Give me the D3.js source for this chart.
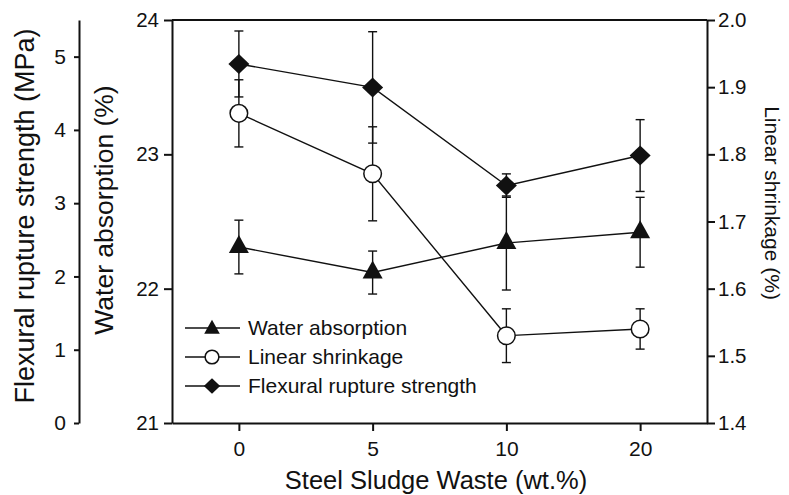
<!DOCTYPE html>
<html>
<head>
<meta charset="utf-8">
<script src="https://cdn.jsdelivr.net/npm/d3@7"></script>
<style>
  html, body { margin: 0; padding: 0; background: #fff; }
  svg { display: block; }
  text { font-family: "Liberation Sans", Arial, sans-serif; fill: #111; }
</style>
</head>
<body>
<svg id="chart" width="789" height="495"></svg>
<script>
// ---- data ----
const categories = ["0", "5", "10", "20"];
const waterAbsorption = [22.31, 22.12, 22.34, 22.42];
const waterAbsorptionErr = [0.20, 0.16, 0.35, 0.26];
const linearShrinkage = [1.861, 1.771, 1.530, 1.540];
const linearShrinkageErr = [0.05, 0.07, 0.04, 0.03];
const flexuralStrength = [4.90, 4.58, 3.24, 3.65];
const flexuralStrengthErr = [0.45, 0.76, 0.16, 0.49];
const waterTicks = [21, 22, 23, 24];
const shrinkTicks = [1.4, 1.5, 1.6, 1.7, 1.8, 1.9, 2.0];
const flexTicks = [0, 1, 2, 3, 4, 5];
const legendLabels = ["Water absorption", "Linear shrinkage", "Flexural rupture strength"];

// ---- layout ----
const svg = d3.select("#chart");
const L = 172, R = 707, T = 20, B = 423;
const flexAxisX = 79;
const ink = "#111";

const x = d3.scalePoint().domain(categories).range([L, R]).padding(0.5);
const yWater = d3.scaleLinear().domain([21, 24]).range([B, T]);
const yShrink = d3.scaleLinear().domain([1.4, 2.0]).range([B, T]);
const yFlex = d3.scaleLinear().domain([0, 5.5]).range([B, T]);

function styleAxis(g, fs) {
  g.selectAll(".domain").attr("stroke", ink).attr("stroke-width", 2);
  g.selectAll(".tick line").attr("stroke", ink).attr("stroke-width", 2);
  g.selectAll(".tick text").attr("font-size", fs).attr("fill", ink)
    .attr("font-family", '"Liberation Sans", Arial, sans-serif');
}

// bottom axis
const gx = svg.append("g").attr("transform", `translate(0,${B})`)
  .call(d3.axisBottom(x).tickSize(8).tickSizeOuter(0).tickPadding(10));
styleAxis(gx, 21);

// top frame line
svg.append("line").attr("x1", L).attr("x2", R).attr("y1", T).attr("y2", T)
  .attr("stroke", ink).attr("stroke-width", 2);

// left water absorption axis
const gw = svg.append("g").attr("transform", `translate(${L},0)`)
  .call(d3.axisLeft(yWater).tickValues(waterTicks).tickFormat(d3.format("d")).tickSize(8).tickSizeOuter(0).tickPadding(5));
styleAxis(gw, 20.5);

// right linear shrinkage axis
const gs = svg.append("g").attr("transform", `translate(${R},0)`)
  .call(d3.axisRight(yShrink).tickValues(shrinkTicks).tickFormat(d3.format(".1f")).tickSize(8).tickSizeOuter(0).tickPadding(3));
styleAxis(gs, 20.5);

// far-left flexural axis
const gf = svg.append("g").attr("transform", `translate(${flexAxisX},0)`)
  .call(d3.axisLeft(yFlex).tickValues(flexTicks).tickFormat(d3.format("d")).tickSize(5).tickSizeOuter(0).tickPadding(8));
styleAxis(gf, 21);

// axis titles
svg.append("text").attr("transform", `translate(34,216) rotate(-90)`)
  .attr("text-anchor", "middle").attr("font-size", 27).text("Flexural rupture strength (MPa)");
svg.append("text").attr("transform", `translate(113,210) rotate(-90)`)
  .attr("text-anchor", "middle").attr("font-size", 26.5).text("Water absorption (%)");
svg.append("text").attr("transform", `translate(765,203) rotate(90)`)
  .attr("text-anchor", "middle").attr("font-size", 21).text("Linear shrinkage (%)");
svg.append("text").attr("x", 436).attr("y", 489)
  .attr("text-anchor", "middle").attr("font-size", 25.5).text("Steel Sludge Waste (wt.%)");

// marker shapes
function triPath(w, h) {
  return `M0,${-2 * h / 3}L${w / 2},${h / 3}L${-w / 2},${h / 3}Z`;
}
function diaPath(hw, hh) {
  return `M0,${-hh}L${hw},0L0,${hh}L${-hw},0Z`;
}

const series = [
  { vals: waterAbsorption, err: waterAbsorptionErr, y: yWater, kind: "tri" },
  { vals: linearShrinkage, err: linearShrinkageErr, y: yShrink, kind: "circ" },
  { vals: flexuralStrength, err: flexuralStrengthErr, y: yFlex, kind: "dia" }
];

const plot = svg.append("g");
// connecting lines
series.forEach(s => {
  const line = d3.line().x((d, i) => x(categories[i])).y(d => s.y(d));
  plot.append("path").attr("d", line(s.vals)).attr("fill", "none")
    .attr("stroke", ink).attr("stroke-width", 1.4);
});
// error bars
series.forEach(s => {
  s.vals.forEach((v, i) => {
    const cx = x(categories[i]);
    const y1 = s.y(v + s.err[i]), y2 = s.y(v - s.err[i]);
    const g = plot.append("g").attr("stroke", ink).attr("stroke-width", 1.4);
    g.append("line").attr("x1", cx).attr("x2", cx).attr("y1", y1).attr("y2", y2);
    g.append("line").attr("x1", cx - 4.5).attr("x2", cx + 4.5).attr("y1", y1).attr("y2", y1);
    g.append("line").attr("x1", cx - 4.5).attr("x2", cx + 4.5).attr("y1", y2).attr("y2", y2);
  });
});
// markers
function drawMarker(g, kind, cx, cy, scale) {
  if (kind === "tri") {
    g.append("path").attr("d", triPath(20 * scale, 18 * scale))
      .attr("transform", `translate(${cx},${cy})`).attr("fill", ink);
  } else if (kind === "circ") {
    g.append("circle").attr("cx", cx).attr("cy", cy).attr("r", 8.8 * scale)
      .attr("fill", "#fff").attr("stroke", ink).attr("stroke-width", 1.5);
  } else {
    g.append("path").attr("d", diaPath(10.5 * scale, 10 * scale))
      .attr("transform", `translate(${cx},${cy})`).attr("fill", ink);
  }
}
series.forEach(s => {
  s.vals.forEach((v, i) => drawMarker(plot, s.kind, x(categories[i]), s.y(v), 1));
});

// legend
const legend = svg.append("g");
const legendY = [328, 357, 386];
series.forEach((s, i) => {
  const ly = legendY[i];
  legend.append("line").attr("x1", 185).attr("x2", 240).attr("y1", ly).attr("y2", ly)
    .attr("stroke", ink).attr("stroke-width", 1.4);
  drawMarker(legend, s.kind, 212, ly + (s.kind === "tri" ? 1 : 0), 0.78);
  legend.append("text").attr("x", 248).attr("y", ly).attr("dy", "0.35em")
    .attr("font-size", 21).text(legendLabels[i]);
});
</script>
</body>
</html>
